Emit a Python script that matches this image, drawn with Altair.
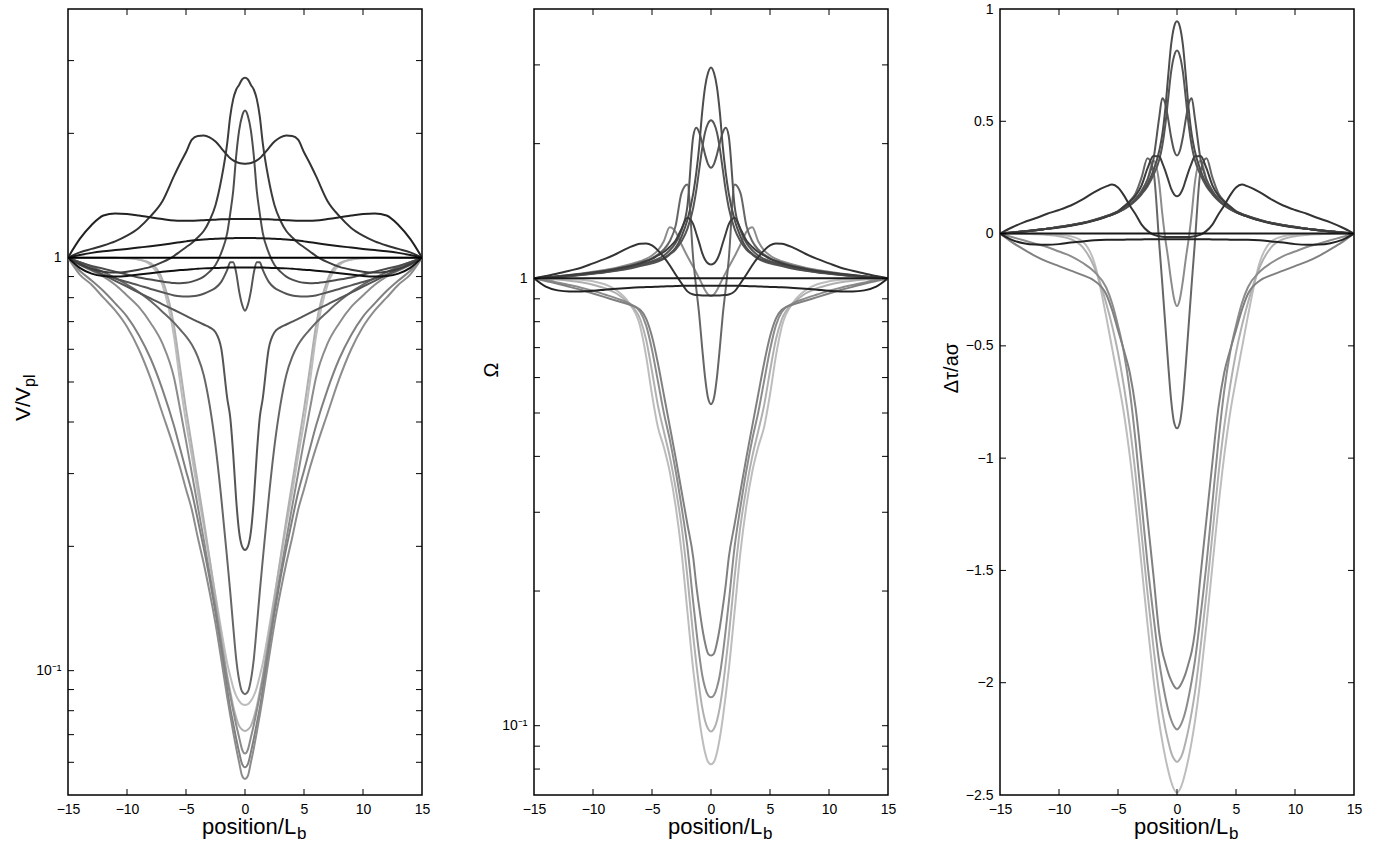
import altair as alt
import pandas as pd

# half-profiles (x >= 0); every curve in the figure is symmetric about x = 0
X_HALF = [0, 0.25, 0.5, 0.75, 1, 1.25, 1.5, 2, 2.5, 3, 3.5, 4, 4.5, 5, 5.5, 6, 7, 8, 9, 10, 11, 12, 13, 14, 15]

# ---------------- panel 1 : V / V_pl ----------------
V_A = [1.0] * 25
V_B = [0.947, 0.947, 0.947, 0.947, 0.946, 0.946, 0.946, 0.945, 0.944, 0.943, 0.942, 0.94, 0.938, 0.935, 0.933, 0.93, 0.924, 0.917, 0.91, 0.903, 0.90, 0.903, 0.915, 0.945, 1.0]
V_C = [1.116, 1.116, 1.116, 1.116, 1.115, 1.115, 1.114, 1.113, 1.111, 1.109, 1.107, 1.104, 1.10, 1.095, 1.09, 1.085, 1.075, 1.066, 1.058, 1.05, 1.043, 1.036, 1.027, 1.015, 1.0]
V_D = [1.24, 1.24, 1.24, 1.24, 1.24, 1.24, 1.239, 1.238, 1.236, 1.234, 1.232, 1.23, 1.229, 1.228, 1.228, 1.23, 1.24, 1.252, 1.265, 1.276, 1.28, 1.265, 1.20, 1.11, 1.0]
V_E = [1.687, 1.69, 1.695, 1.705, 1.72, 1.74, 1.77, 1.84, 1.91, 1.955, 1.975, 1.97, 1.93, 1.80, 1.69, 1.58, 1.37, 1.26, 1.18, 1.13, 1.095, 1.07, 1.05, 1.03, 1.0]
V_F = [2.725, 2.70, 2.62, 2.55, 2.42, 2.20, 1.90, 1.55, 1.34, 1.23, 1.16, 1.12, 1.085, 1.06, 1.035, 1.01, 0.975, 0.95, 0.935, 0.925, 0.92, 0.925, 0.94, 0.965, 1.0]
V_G = [2.27, 2.20, 2.03, 1.76, 1.45, 1.28, 1.15, 1.03, 0.96, 0.925, 0.90, 0.885, 0.875, 0.869, 0.867, 0.868, 0.875, 0.885, 0.895, 0.91, 0.925, 0.94, 0.955, 0.975, 1.0]
V_H = [0.744, 0.77, 0.83, 0.92, 0.975, 0.975, 0.935, 0.875, 0.845, 0.83, 0.818, 0.81, 0.806, 0.805, 0.806, 0.81, 0.825, 0.84, 0.857, 0.873, 0.89, 0.91, 0.935, 0.962, 1.0]
V_I = [0.196, 0.20, 0.217, 0.26, 0.335, 0.41, 0.455, 0.60, 0.66, 0.678, 0.689, 0.70, 0.711, 0.723, 0.735, 0.747, 0.771, 0.797, 0.823, 0.851, 0.879, 0.908, 0.937, 0.968, 1.0]
V_J = [0.0877, 0.089, 0.095, 0.107, 0.128, 0.155, 0.185, 0.26, 0.35, 0.44, 0.52, 0.575, 0.615, 0.645, 0.67, 0.695, 0.74, 0.785, 0.825, 0.86, 0.893, 0.923, 0.95, 0.975, 1.0]
V_K = [0.0826, 0.083, 0.0845, 0.087, 0.091, 0.097, 0.104, 0.125, 0.152, 0.185, 0.225, 0.27, 0.33, 0.40, 0.50, 0.64, 0.86, 0.96, 0.99, 0.997, 1.0, 1.0, 1.0, 1.0, 1.0]
V_L = [0.0714, 0.072, 0.0735, 0.077, 0.082, 0.089, 0.097, 0.12, 0.15, 0.187, 0.232, 0.285, 0.35, 0.43, 0.54, 0.68, 0.885, 0.97, 0.99, 0.997, 1.0, 1.0, 1.0, 1.0, 1.0]
V_M = [0.063, 0.0645, 0.069, 0.074, 0.08, 0.087, 0.095, 0.116, 0.142, 0.172, 0.208, 0.25, 0.30, 0.36, 0.43, 0.51, 0.62, 0.695, 0.76, 0.81, 0.86, 0.90, 0.93, 0.96, 1.0]
V_N = [0.0584, 0.0595, 0.0635, 0.0685, 0.0745, 0.081, 0.09, 0.112, 0.138, 0.167, 0.198, 0.232, 0.27, 0.305, 0.345, 0.39, 0.48, 0.57, 0.65, 0.72, 0.775, 0.83, 0.88, 0.93, 1.0]
V_O = [0.0547, 0.0557, 0.06, 0.065, 0.071, 0.078, 0.086, 0.106, 0.13, 0.155, 0.182, 0.21, 0.245, 0.275, 0.31, 0.345, 0.42, 0.51, 0.60, 0.68, 0.745, 0.80, 0.86, 0.91, 1.0]

# ---------------- panel 2 : Omega ----------------
W_1 = [1.0] * 25
W_2 = [0.963, 0.963, 0.963, 0.963, 0.963, 0.963, 0.963, 0.962, 0.962, 0.961, 0.96, 0.959, 0.958, 0.957, 0.956, 0.955, 0.952, 0.948, 0.943, 0.938, 0.935, 0.935, 0.94, 0.958, 1.0]
W_3 = [0.916, 0.916, 0.916, 0.916, 0.917, 0.918, 0.92, 0.935, 0.975, 1.02, 1.07, 1.115, 1.155, 1.185, 1.197, 1.195, 1.17, 1.135, 1.105, 1.08, 1.056, 1.04, 1.025, 1.012, 1.0]
W_4 = [1.074, 1.08, 1.10, 1.14, 1.2, 1.26, 1.32, 1.366, 1.29, 1.215, 1.175, 1.145, 1.125, 1.105, 1.092, 1.08, 1.063, 1.05, 1.038, 1.03, 1.023, 1.017, 1.011, 1.005, 1.0]
W_5 = [0.523, 0.54, 0.60, 0.70, 0.83, 0.95, 1.10, 1.62, 1.55, 1.31, 1.21, 1.16, 1.13, 1.11, 1.095, 1.085, 1.066, 1.052, 1.04, 1.031, 1.022, 1.015, 1.009, 1.004, 1.0]
W_6 = [1.767, 1.80, 1.89, 2.01, 2.12, 2.17, 2.08, 1.45, 1.28, 1.20, 1.155, 1.125, 1.105, 1.092, 1.083, 1.075, 1.06, 1.047, 1.037, 1.028, 1.02, 1.013, 1.008, 1.004, 1.0]
W_7 = [2.256, 2.22, 2.12, 1.95, 1.75, 1.57, 1.44, 1.29, 1.21, 1.16, 1.13, 1.105, 1.09, 1.08, 1.072, 1.065, 1.05, 1.04, 1.031, 1.024, 1.017, 1.011, 1.006, 1.003, 1.0]
W_8 = [2.96, 2.88, 2.68, 2.35, 1.97, 1.72, 1.55, 1.35, 1.24, 1.17, 1.135, 1.11, 1.097, 1.087, 1.078, 1.07, 1.053, 1.042, 1.033, 1.025, 1.018, 1.012, 1.007, 1.003, 1.0]
W_9 = [0.913, 0.92, 0.94, 0.97, 1.0, 1.03, 1.06, 1.12, 1.19, 1.27, 1.30, 1.21, 1.155, 1.125, 1.105, 1.092, 1.072, 1.056, 1.044, 1.034, 1.025, 1.017, 1.01, 1.005, 1.0]
W_10 = [0.1436, 0.145, 0.153, 0.166, 0.184, 0.2065, 0.237, 0.282, 0.335, 0.398, 0.468, 0.55, 0.646, 0.741, 0.813, 0.851, 0.875, 0.891, 0.908, 0.925, 0.942, 0.957, 0.973, 0.986, 1.0]
W_11 = [0.1157, 0.117, 0.1216, 0.130, 0.1445, 0.164, 0.188, 0.251, 0.309, 0.372, 0.437, 0.501, 0.589, 0.692, 0.785, 0.841, 0.881, 0.902, 0.92, 0.938, 0.953, 0.966, 0.979, 0.991, 1.0]
W_12 = [0.0971, 0.0985, 0.1025, 0.110, 0.122, 0.138, 0.158, 0.215, 0.28, 0.34, 0.40, 0.455, 0.52, 0.62, 0.73, 0.81, 0.88, 0.925, 0.95, 0.968, 0.98, 0.988, 0.994, 0.998, 1.0]
W_13 = [0.082, 0.083, 0.087, 0.094, 0.104, 0.117, 0.133, 0.18, 0.245, 0.31, 0.37, 0.42, 0.465, 0.55, 0.67, 0.78, 0.885, 0.94, 0.97, 0.985, 0.993, 0.997, 0.999, 1.0, 1.0]

# ---------------- panel 3 : delta tau / a sigma ----------------
T_1 = [0.0] * 25
T_2 = [-0.025, -0.025, -0.025, -0.025, -0.025, -0.025, -0.025, -0.025, -0.025, -0.026, -0.026, -0.026, -0.027, -0.027, -0.028, -0.028, -0.03, -0.035, -0.04, -0.047, -0.05, -0.049, -0.043, -0.028, 0.0]
T_3 = [-0.015, -0.015, -0.015, -0.015, -0.015, -0.014, -0.012, -0.005, 0.012, 0.04, 0.085, 0.125, 0.17, 0.205, 0.218, 0.21, 0.185, 0.152, 0.125, 0.105, 0.088, 0.068, 0.05, 0.027, 0.0]
T_4 = [0.166, 0.175, 0.2, 0.24, 0.28, 0.315, 0.343, 0.345, 0.29, 0.215, 0.17, 0.142, 0.12, 0.098, 0.085, 0.075, 0.058, 0.045, 0.035, 0.027, 0.021, 0.015, 0.009, 0.004, 0.0]
T_5 = [-0.867, -0.84, -0.74, -0.58, -0.40, -0.22, -0.05, 0.28, 0.335, 0.25, 0.18, 0.145, 0.12, 0.10, 0.088, 0.078, 0.062, 0.048, 0.038, 0.03, 0.022, 0.016, 0.01, 0.005, 0.0]
T_6 = [0.348, 0.37, 0.43, 0.51, 0.58, 0.603, 0.52, 0.33, 0.24, 0.19, 0.155, 0.13, 0.112, 0.097, 0.086, 0.077, 0.06, 0.047, 0.037, 0.029, 0.022, 0.015, 0.01, 0.005, 0.0]
T_7 = [0.815, 0.79, 0.72, 0.60, 0.48, 0.39, 0.33, 0.26, 0.21, 0.175, 0.147, 0.125, 0.108, 0.095, 0.084, 0.075, 0.059, 0.046, 0.036, 0.028, 0.021, 0.015, 0.009, 0.004, 0.0]
T_8 = [0.945, 0.92, 0.84, 0.70, 0.55, 0.44, 0.37, 0.28, 0.22, 0.18, 0.15, 0.127, 0.11, 0.096, 0.085, 0.076, 0.06, 0.047, 0.037, 0.029, 0.022, 0.015, 0.01, 0.005, 0.0]
T_9 = [-0.323, -0.29, -0.21, -0.11, -0.02, 0.09, 0.22, 0.325, 0.24, 0.19, 0.155, 0.13, 0.112, 0.097, 0.086, 0.077, 0.06, 0.047, 0.037, 0.029, 0.022, 0.015, 0.01, 0.005, 0.0]
T_10 = [-2.027, -2.015, -1.99, -1.955, -1.91, -1.86, -1.78, -1.52, -1.27, -1.02, -0.78, -0.62, -0.52, -0.43, -0.34, -0.27, -0.21, -0.185, -0.165, -0.145, -0.125, -0.10, -0.07, -0.038, 0.0]
T_11 = [-2.208, -2.195, -2.165, -2.12, -2.06, -1.99, -1.91, -1.70, -1.47, -1.20, -0.93, -0.70, -0.53, -0.41, -0.31, -0.24, -0.17, -0.13, -0.10, -0.08, -0.06, -0.045, -0.03, -0.015, 0.0]
T_12 = [-2.353, -2.34, -2.31, -2.26, -2.2, -2.13, -2.05, -1.84, -1.6, -1.34, -1.08, -0.86, -0.68, -0.53, -0.41, -0.31, -0.15, -0.06, -0.025, -0.012, -0.006, -0.003, -0.001, 0.0, 0.0]
T_13 = [-2.489, -2.475, -2.44, -2.39, -2.33, -2.26, -2.18, -1.98, -1.74, -1.48, -1.22, -0.99, -0.80, -0.65, -0.51, -0.37, -0.13, -0.035, -0.012, -0.005, -0.002, 0.0, 0.0, 0.0, 0.0]

# (name, grey level, values) in drawing order: light first, darkest last
CURVES_1 = [("K", "#bdbdbd", V_K), ("L", "#b0b0b0", V_L), ("M", "#8c8c8c", V_M), ("N", "#808080", V_N),
            ("O", "#8c8c8c", V_O), ("J", "#666666", V_J), ("I", "#555555", V_I), ("H", "#555555", V_H),
            ("G", "#4d4d4d", V_G), ("F", "#3d3d3d", V_F), ("E", "#333333", V_E), ("D", "#222222", V_D),
            ("C", "#1a1a1a", V_C), ("B", "#111111", V_B), ("A", "#000000", V_A)]
CURVES_2 = [("13", "#bdbdbd", W_13), ("12", "#ababab", W_12), ("11", "#9a9a9a", W_11), ("10", "#8a8a8a", W_10),
            ("9", "#888888", W_9), ("5", "#6e6e6e", W_5), ("6", "#666666", W_6), ("7", "#555555", W_7),
            ("8", "#5e5e5e", W_8), ("4", "#2d2d2d", W_4), ("3", "#1e1e1e", W_3), ("2", "#111111", W_2),
            ("1", "#000000", W_1)]
CURVES_3 = [("13", "#bdbdbd", T_13), ("12", "#ababab", T_12), ("11", "#9a9a9a", T_11), ("10", "#8a8a8a", T_10),
            ("9", "#888888", T_9), ("5", "#6e6e6e", T_5), ("6", "#666666", T_6), ("7", "#555555", T_7),
            ("8", "#5e5e5e", T_8), ("4", "#2d2d2d", T_4), ("3", "#1e1e1e", T_3), ("2", "#111111", T_2),
            ("1", "#000000", T_1)]

X_TICKS = [-15, -10, -5, 0, 5, 10, 15]
X_MINOR = [-10, -5, 0, 5, 10]
Y1_TICKS = [0.06, 0.07, 0.08, 0.09, 0.1, 0.2, 0.3, 0.4, 0.5, 0.6, 0.7, 0.8, 0.9, 1, 2, 3]
Y2_TICKS = [0.08, 0.09, 0.1, 0.2, 0.3, 0.4, 0.5, 0.6, 0.7, 0.8, 0.9, 1, 2, 3]
Y3_TICKS = [-2, -1.5, -1, -0.5, 0, 0.5]
Y3_LABELS = [-2.5, -2, -1.5, -1, -0.5, 0, 0.5, 1]

W, H = 354, 786
FONT = "Liberation Sans"


def build(curves):
    rows = []
    for name, _, vals in curves:
        xs = [-x for x in X_HALF[:0:-1]] + X_HALF
        vs = vals[:0:-1] + vals
        for i, (x, v) in enumerate(zip(xs, vs)):
            rows.append({"x": x, "v": v, "c": name, "i": i})
    return pd.DataFrame(rows)


def text_layer(txt, x, y, size, angle=0, align="left", baseline="alphabetic"):
    kw = dict(align=align, baseline=baseline, fontSize=size, font=FONT, color="#000")
    if angle:
        kw["angle"] = angle
    return alt.Chart(pd.DataFrame({"t": [txt]})).mark_text(**kw).encode(
        text="t:N", x=alt.value(x), y=alt.value(y))


XAXIS = alt.Axis(values=X_TICKS, tickSize=0, labelPadding=7, domain=False, grid=False,
                 title=None, labelFlush=False, labelFontSize=14, labelFont=FONT,
                 labelColor="#000", labelOverlap=False)


def panel(curves, yscale, yaxis, yticks, titles):
    df = build(curves)
    xs = alt.Scale(domain=[-15, 15], nice=False, zero=False)
    lines = alt.Chart(df).mark_line(strokeWidth=2, interpolate="monotone", clip=True).encode(
        x=alt.X("x:Q", scale=xs, axis=XAXIS),
        y=alt.Y("v:Q", scale=yscale, axis=yaxis),
        color=alt.Color("c:N", scale=alt.Scale(domain=[c[0] for c in curves],
                                               range=[c[1] for c in curves]), legend=None),
        order="i:Q",
    )
    ytd = alt.Chart(pd.DataFrame({"v": yticks}))
    xtd = alt.Chart(pd.DataFrame({"x": X_MINOR}))
    left = ytd.mark_rule(color="#000", strokeWidth=1).encode(
        y=alt.Y("v:Q", scale=yscale, axis=yaxis), x=alt.value(0), x2=alt.value(6))
    right = ytd.mark_rule(color="#000", strokeWidth=1).encode(
        y=alt.Y("v:Q", scale=yscale, axis=yaxis), x=alt.value(W - 6), x2=alt.value(W))
    bottom = xtd.mark_rule(color="#000", strokeWidth=1).encode(
        x=alt.X("x:Q", scale=xs, axis=XAXIS), y=alt.value(H - 6), y2=alt.value(H))
    top = xtd.mark_rule(color="#000", strokeWidth=1).encode(
        x=alt.X("x:Q", scale=xs, axis=XAXIS), y=alt.value(0), y2=alt.value(6))
    xt = [text_layer("position/L", W / 2 - 43, H + 39, 22),
          text_layer("b", W / 2 + 52, H + 44, 17)]
    return alt.layer(lines, left, right, bottom, top, *xt, *titles).properties(width=W, height=H)


ylab = dict(tickSize=0, labelPadding=7, domain=False, grid=False, title=None,
            labelFontSize=14, labelFont=FONT, labelColor="#000", labelOverlap=False)

p1 = panel(CURVES_1,
           alt.Scale(type="log", domain=[0.05, 4], nice=False),
           alt.Axis(values=[0.1, 1], labelExpr="datum.value > 0.5 ? '1' : '10⁻¹'", **ylab),
           Y1_TICKS,
           [text_layer("V/V", -38, 412, 21, angle=270),
            text_layer("pl", -33, 378, 16, angle=270)])
p2 = panel(CURVES_2,
           alt.Scale(type="log", domain=[0.07, 4], nice=False),
           alt.Axis(values=[0.1, 1], labelExpr="datum.value > 0.5 ? '1' : '10⁻¹'", **ylab),
           Y2_TICKS,
           [text_layer("Ω", -36, 361, 20, angle=270, align="center")])
p3 = panel(CURVES_3,
           alt.Scale(domain=[-2.5, 1], nice=False, zero=False),
           alt.Axis(values=Y3_LABELS, format="~g", **ylab),
           Y3_TICKS,
           [text_layer("Δτ/aσ", -42, 359, 20, angle=270, align="center")])

chart = alt.hconcat(p1, p2, p3, spacing=112, bounds="flush").properties(
    padding={"left": 12, "top": 1, "right": 5, "bottom": 5},
    background="white",
).configure_view(stroke="#000", strokeWidth=1.5)

chart.save("out.html", embed_options={"renderer": "svg", "actions": False})
